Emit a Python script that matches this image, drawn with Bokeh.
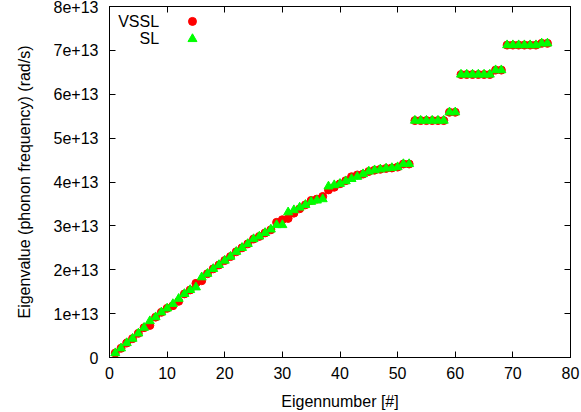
import numpy as np
from bokeh.plotting import figure
from bokeh.models import FixedTicker, LinearAxis, Range1d, CustomJSTickFormatter, Label
from bokeh.embed import file_html
from bokeh.resources import INLINE

# ---- data (eigenvalues in units of 1e13 rad/s) ----
eigennumber = list(range(1, 77))
vssl_e13 = [0.10, 0.21, 0.33, 0.43, 0.55, 0.68, 0.73, 0.92, 1.03, 1.12,
            1.18, 1.28, 1.45, 1.54, 1.69, 1.75, 1.91, 2.02, 2.11, 2.21,
            2.30, 2.41, 2.50, 2.59, 2.70, 2.76, 2.84, 2.91, 3.08, 3.14,
            3.17, 3.29, 3.39, 3.48, 3.58, 3.61, 3.67, 3.82, 3.88, 3.96,
            4.03, 4.12, 4.16, 4.18, 4.24, 4.27, 4.29, 4.31, 4.32, 4.34,
            4.41, 4.41,
            5.40, 5.40, 5.40, 5.40, 5.40, 5.40, 5.59, 5.59,
            6.45, 6.45, 6.45, 6.45, 6.45, 6.45, 6.55, 6.55,
            7.12, 7.12, 7.12, 7.12, 7.12, 7.12, 7.16, 7.16]
sl_e13 = [0.10, 0.21, 0.33, 0.43, 0.55, 0.68, 0.83, 0.92, 1.03, 1.12,
          1.22, 1.34, 1.45, 1.54, 1.60, 1.83, 1.91, 2.02, 2.11, 2.21,
          2.30, 2.41, 2.50, 2.59, 2.70, 2.76, 2.84, 2.92, 3.02, 3.02,
          3.31, 3.36, 3.42, 3.48, 3.55, 3.58, 3.61, 3.90, 3.93, 3.96,
          4.02, 4.07, 4.12, 4.18, 4.24, 4.27, 4.29, 4.31, 4.32, 4.34,
          4.41, 4.41,
          5.40, 5.40, 5.40, 5.40, 5.40, 5.40, 5.59, 5.59,
          6.45, 6.45, 6.45, 6.45, 6.45, 6.45, 6.55, 6.55,
          7.12, 7.12, 7.12, 7.12, 7.12, 7.12, 7.16, 7.16]
series_names = ["VSSL", "SL"]
x_ticks = [0, 10, 20, 30, 40, 50, 60, 70, 80]
y_ticks = [0, 1e13, 2e13, 3e13, 4e13, 5e13, 6e13, 7e13, 8e13]

vssl = np.array(vssl_e13) * 1e13
sl = np.array(sl_e13) * 1e13

FONT = "Liberation Sans"
FS = "16px"
RED = "#ff0000"
GREEN = "#00ff00"

p = figure(width=581, height=412, output_backend="svg", toolbar_location=None,
           x_range=Range1d(0, 80), y_range=Range1d(0, 8e13),
           min_border_left=109, min_border_right=11, min_border_top=6,
           min_border_bottom=53)
p.grid.visible = False
p.outline_line_color = "black"
p.outline_line_width = 1
p.background_fill_color = "white"
p.border_fill_color = "white"

bottom = p.below[0]
left = p.left[0]

bottom.ticker = FixedTicker(ticks=x_ticks)
bottom.axis_label = "Eigennumber [#]"
bottom.major_label_standoff = 9
bottom.axis_label_standoff = 11

left.ticker = FixedTicker(ticks=y_ticks)
left.formatter = CustomJSTickFormatter(code="return tick == 0 ? '0' : tick.toExponential();")
left.axis_label = "Eigenvalue (phonon frequency) (rad/s)"
left.major_label_standoff = 11
left.axis_label_standoff = 18

top = LinearAxis(ticker=FixedTicker(ticks=x_ticks))
right = LinearAxis(ticker=FixedTicker(ticks=y_ticks))
p.add_layout(top, "above")
p.add_layout(right, "right")
for ax in [top, right]:
    ax.major_label_text_font_size = "0px"
    ax.major_label_text_alpha = 0
    ax.major_label_standoff = 0

for ax in [bottom, left, top, right]:
    ax.major_tick_in = 6
    ax.major_tick_out = 0
    ax.minor_tick_line_color = None
    ax.axis_line_color = "black"
    ax.major_tick_line_color = "black"
for ax in [bottom, left]:
    ax.major_label_text_font = FONT
    ax.axis_label_text_font = FONT
    ax.axis_label_text_font_style = "normal"
    ax.axis_label_text_font_size = FS
    ax.major_label_text_font_size = FS
    ax.major_label_text_color = "black"
    ax.axis_label_text_color = "black"

p.scatter(eigennumber, vssl, marker="circle", size=8, fill_color=RED, line_color=RED)
p.scatter(eigennumber, sl, marker="triangle", size=9, fill_color=GREEN, line_color=GREEN)

# legend (gnuplot style: text right-aligned, key to the right)
leg_text_x = 8.6
leg_key_x = 14.4
leg_y = [7.66e13, 7.26e13]
p.scatter([leg_key_x], [leg_y[0]], marker="circle", size=8, fill_color=RED, line_color=RED)
p.scatter([leg_key_x], [leg_y[1]], marker="triangle", size=9, fill_color=GREEN, line_color=GREEN)
for name, yy in zip(series_names, leg_y):
    p.add_layout(Label(x=leg_text_x, y=yy, text=name, text_align="right",
                       text_baseline="middle", text_font=FONT, text_font_size=FS,
                       text_color="black"))

open("out.html", "w").write(file_html(p, INLINE))
